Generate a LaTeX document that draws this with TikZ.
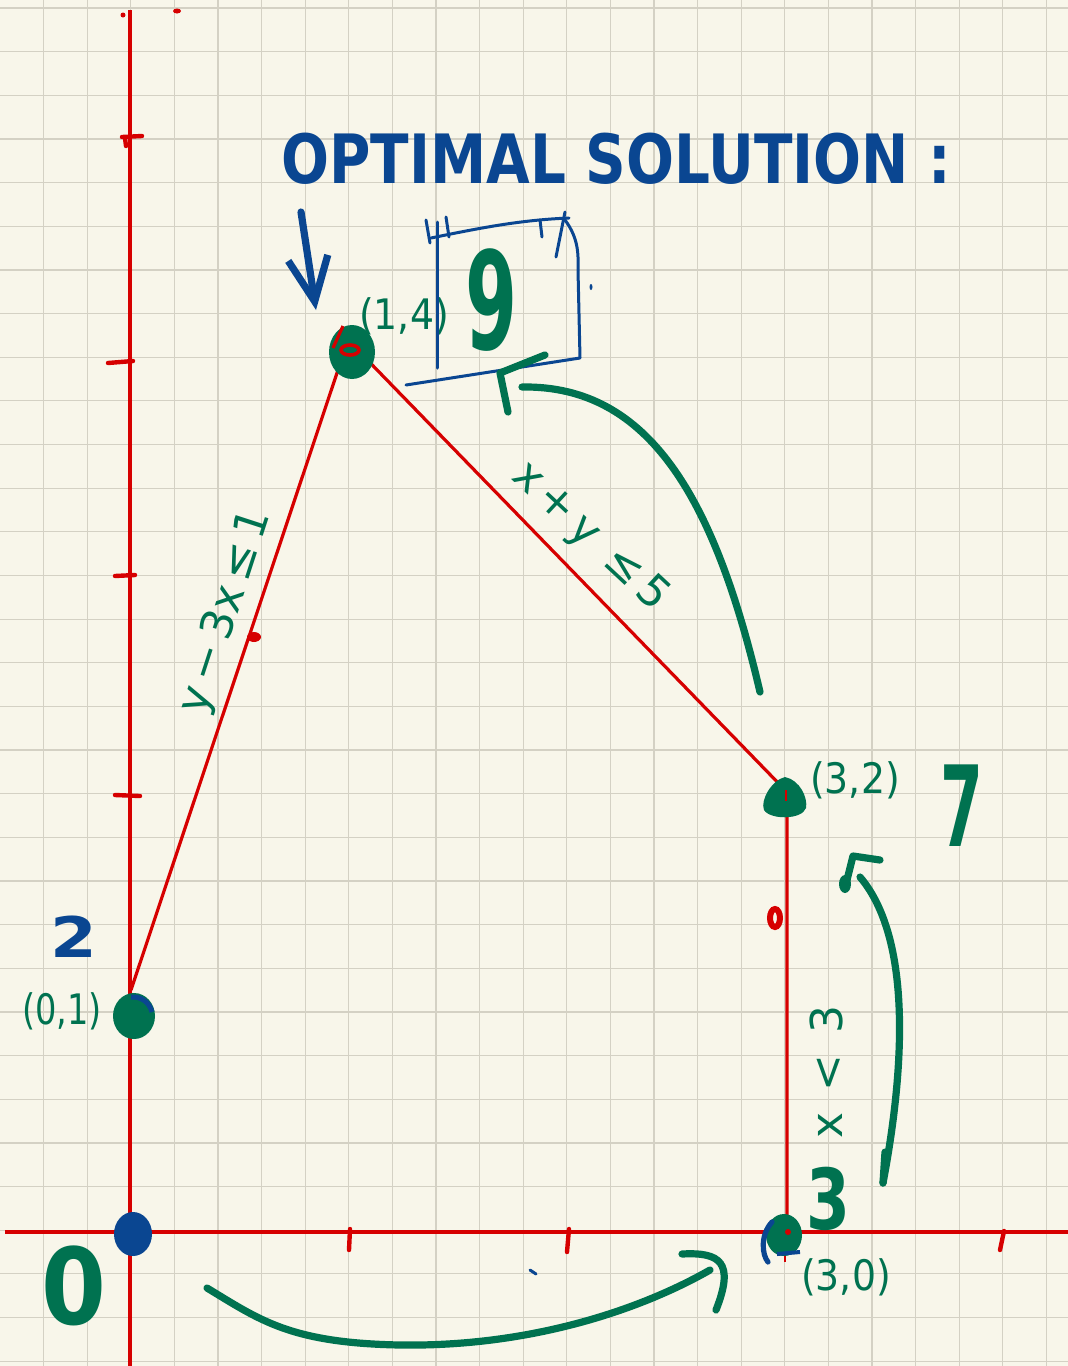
\documentclass[tikz,border=0pt]{standalone}
\usepackage{fontspec}
\setmainfont{DejaVu Sans}
\usetikzlibrary{arrows.meta}
\definecolor{paper}{RGB}{248,246,234}
\definecolor{gridc}{RGB}{212,209,196}
\definecolor{redpen}{RGB}{214,0,0}
\definecolor{greenpen}{RGB}{0,114,80}
\definecolor{bluepen}{RGB}{10,70,145}
\begin{document}
\begin{tikzpicture}[x=0.5pt,y=-0.5pt,
 gridline/.style={draw=gridc,line width=0.6pt},
 axisline/.style={draw=redpen,line width=2pt},
 edgeline/.style={draw=redpen,line width=1.6pt},
 tickmark/.style={draw=redpen,line width=2.2pt,line cap=round},
 gpen/.style={draw=greenpen,line width=3.6pt,line cap=round,line join=round},
 bpen/.style={draw=bluepen,line width=3.6pt,line cap=round,line join=round},
 boxpen/.style={draw=bluepen,line width=1.5pt,line cap=round,line join=round},
 coordlabel/.style={text=greenpen,font=\fontsize{21}{21}\selectfont,inner sep=0pt},
 constraint/.style={text=greenpen,font=\fontsize{22}{22}\selectfont,inner sep=0pt},
 bignum/.style={inner sep=0pt}
]
\fill[paper] (0,0) rectangle (1068,1366);
\useasboundingbox (0,0) rectangle (1068,1366);
% grid
\foreach \k in {1,...,24} \draw[gridline] (43.6*\k,0) -- (43.6*\k,1366);
\foreach \k in {0,...,31} \draw[gridline] (0,8+43.65*\k) -- (1068,8+43.65*\k);
% axes
\coordinate (yTop) at (130,10);
\coordinate (yBot) at (130,1366);
\coordinate (xL) at (5,1232);
\coordinate (xR) at (1068,1232);
\draw[axisline] (yTop) -- (yBot);
\draw[axisline] (xL) -- (xR);
% ticks
\draw[tickmark] (122,137) -- (142,136);
\draw[tickmark] (125,138) -- (126,146);
\draw[tickmark] (108,363) -- (133,361);
\draw[tickmark] (115,576) -- (135,575);
\draw[tickmark] (115,795) -- (140,796);
\draw[tickmark] (350,1229) -- (349,1250);
\draw[tickmark] (569,1229) -- (567,1252);
\draw[tickmark] (1004,1231) -- (1000,1250);
\fill[redpen] (123,15) circle (2.5);
\fill[redpen] (177,11) ellipse (4 and 2.5);
% feasible region edges
\coordinate (P01) at (131,990);
\coordinate (P14) at (348,340);
\coordinate (P32) at (787,792);
\coordinate (P30) at (787,1232);
\draw[edgeline] (P01) -- (P14) -- (P32) -- (P30);
\fill[redpen] (254,637) ellipse (7 and 5);
\draw[redpen,line width=3pt] (775,918) ellipse (5 and 9);
% vertex blobs
\fill[greenpen] (352,352) ellipse (23 and 27);
\draw[redpen,line width=1.8pt] (350,350) ellipse (9 and 5);
\draw[redpen,line width=1.6pt] (333,348) -- (343,326);
\fill[greenpen] (785,777) .. controls (800,780) and (808,798) .. (806,808)
  .. controls (802,820) and (770,820) .. (764,810)
  .. controls (760,800) and (772,780) .. (785,777) -- cycle;
\draw[redpen,line width=1pt] (786,790) -- (786,801);
\fill[greenpen] (134,1016) ellipse (21 and 23);
\draw[bluepen,line width=2.5pt] (131,997) to[bend left=40] (152,1012);
\fill[bluepen] (133,1234) ellipse (19 and 22);
\fill[greenpen] (784,1235) ellipse (18 and 21);
\draw[bluepen,line width=2.6pt,line cap=round] (772,1222) .. controls (760,1235) and (762,1255) .. (768,1262);
\draw[bluepen,line width=2pt] (777,1254) -- (800,1252);
\fill[redpen] (788,1232) circle (3);
\draw[redpen,line width=1.2pt] (785,1256) -- (785,1262);
% coordinate labels
\node[coordlabel] (L14) at (404,316) {\scalebox{0.9}[1]{(1,4)}};
\node[coordlabel] (L32) at (855,780) {\scalebox{0.9}[1]{(3,2)}};
\node[coordlabel] (L30) at (846,1277) {\scalebox{0.9}[1]{(3,0)}};
\node[coordlabel] (L01) at (62,1011) {\scalebox{0.8}[1]{(0,1)}};
% constraints
\node[constraint,rotate=-43] (C1) at (590,537) {x\,+\,y\, ≤\,5};
\node[constraint,rotate=72] (C2) at (226,612) {y\,−\,3x\,≤\,1};
\node[constraint,rotate=90] (C3) at (826,1072) {x\, <\, 3};
% objective values
\node[bignum,text=greenpen,font=\fontsize{68}{68}\bfseries\selectfont] (V9) at (492,300) {\scalebox{0.55}[1]{9}};
\node[bignum,text=greenpen,font=\fontsize{56}{56}\bfseries\selectfont] (V7) at (962,806) {\scalebox{0.55}[1]{7}};
\node[bignum,text=greenpen,font=\fontsize{42}{42}\bfseries\selectfont] (V3) at (828,1199) {\scalebox{0.75}[1]{3}};
\node[bignum,text=greenpen,font=\fontsize{53}{53}\bfseries\selectfont] (V0) at (74,1286) {\scalebox{0.88}[1]{0}};
\node[bignum,text=bluepen,font=\fontsize{28}{28}\bfseries\selectfont] (V2) at (74,937) {\scalebox{1.2}[1]{2}};
% title
\node[text=bluepen,font=\fontsize{34}{34}\bfseries\selectfont,inner sep=0pt,anchor=base west] (title) at (281,183) {\scalebox{0.83}[1]{OPTIMAL SOLUTION :}};
% blue arrow to optimum
\coordinate (BA1) at (301,212);
\coordinate (BA2) at (316,310);
\draw[bpen,-{Straight Barb[length=22pt,width=20pt]}] (BA1) -- (BA2);
% box around 9
\draw[boxpen] (437,222) -- (437,368);
\draw[boxpen] (431,238) .. controls (480,228) and (520,220) .. (569,218);
\draw[boxpen] (565,220) .. controls (580,240) and (578,258) .. (578,270) -- (580,358) -- (406,385);
\draw[boxpen] (426,220) -- (430,243);
\draw[boxpen] (446,217) -- (449,237);
\draw[boxpen] (540,220) -- (542,237);
\draw[boxpen] (565,212) -- (556,257);
\fill[bluepen] (591,287) ellipse (1.5 and 3);
% green arrows
\coordinate (G1s) at (760,692);
\coordinate (G1e) at (522,387);
\draw[gpen] (G1s) .. controls (715,500) and (650,385) .. (G1e);
\draw[gpen] (508,412) -- (500,373) -- (545,355);
\coordinate (G2s) at (883,1183);
\coordinate (G2e) at (860,877);
\draw[gpen] (G2s) .. controls (910,1040) and (905,930) .. (G2e);
\draw[gpen] (885,1152) -- (883,1183);
\draw[gpen] (845,888) -- (853,856) -- (880,860);
\fill[greenpen] (845,884) ellipse (6 and 9);
\coordinate (G3s) at (207,1288);
\coordinate (G3e) at (710,1270);
\draw[gpen] (G3s) .. controls (260,1320) and (290,1343) .. (400,1345) .. controls (530,1347) and (640,1310) .. (G3e);
\draw[gpen] (682,1254) .. controls (720,1252) and (735,1262) .. (716,1310);
\draw[bluepen,line width=1.5pt,line cap=round] (530,1270) -- (536,1274);
\end{tikzpicture}
\end{document}
